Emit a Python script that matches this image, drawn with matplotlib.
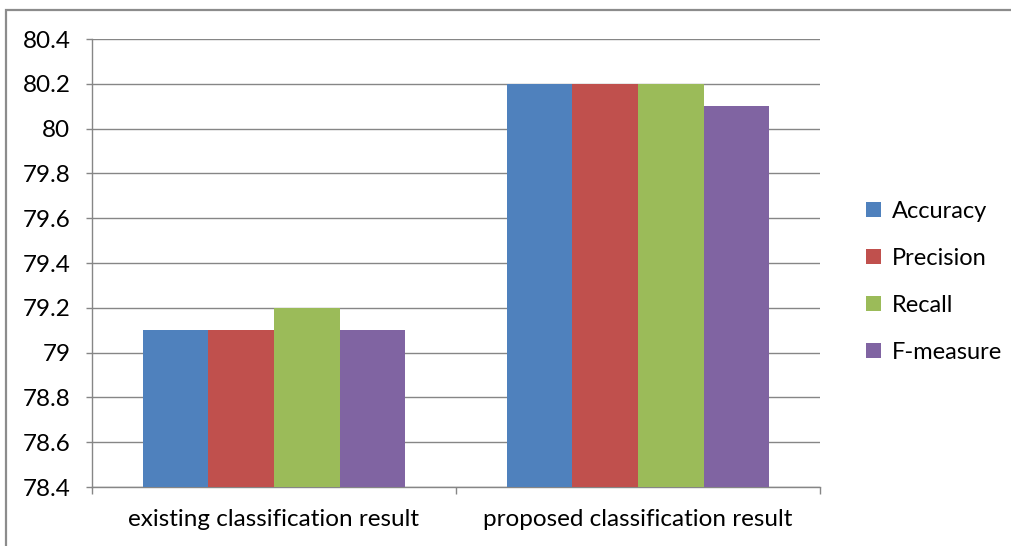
import matplotlib
matplotlib.use("Agg")
import matplotlib.pyplot as plt
import numpy as np
from matplotlib.patches import Rectangle

categories = ["existing classification result", "proposed classification result"]
series_names = ["Accuracy", "Precision", "Recall", "F-measure"]
accuracy = [79.1, 80.2]
precision = [79.1, 80.2]
recall = [79.2, 80.2]
fmeasure = [79.1, 80.1]
series_values = [accuracy, precision, recall, fmeasure]
colors = ["#4F81BD", "#C0504D", "#9BBB59", "#8064A2"]
yticks = [78.4, 78.6, 78.8, 79.0, 79.2, 79.4, 79.6, 79.8, 80.0, 80.2, 80.4]
ytick_labels = ["78.4", "78.6", "78.8", "79", "79.2", "79.4", "79.6", "79.8", "80", "80.2", "80.4"]

plt.rcParams['font.family'] = ['Lato', 'DejaVu Sans']

W, H = 1011, 546
fig = plt.figure(figsize=(W / 100, H / 100), dpi=100)

# outer frame
fig.patches.append(Rectangle((6 / W, -0.1), 1.2, (H - 10) / H + 0.1,
                             transform=fig.transFigure, fill=False,
                             edgecolor="#8C8C8C", linewidth=1.6, zorder=0))

ax = fig.add_axes([92 / W, (H - 487) / H, (820 - 92) / W, (487 - 39) / H])
gray = "#868686"
x = np.arange(len(categories))
bw = 0.18
for i, (name, vals, c) in enumerate(zip(series_names, series_values, colors)):
    ax.bar(x + (i - 1.5) * bw, vals, width=bw, color=c, label=name, zorder=3)

fs = 17.5
ax.set_xlim(-0.5, 1.5)
ax.set_ylim(78.4, 80.4)
ax.set_yticks(yticks)
ax.set_yticklabels(ytick_labels, fontsize=fs)
ax.yaxis.grid(True, color=gray, linewidth=1.0, zorder=0)
ax.set_axisbelow(True)
ax.set_xticks(x)
ax.set_xticklabels(categories, fontsize=fs)
ax.set_xticks([-0.5, 0.5, 1.5], minor=True)
ax.tick_params(axis="x", which="major", length=0, pad=16)
ax.tick_params(axis="x", which="minor", length=5, color=gray, width=1.0)
ax.tick_params(axis="y", length=4.5, color=gray, width=1.0, pad=11)
for s in ["top", "right"]:
    ax.spines[s].set_visible(False)
ax.spines["left"].set_color(gray)
ax.spines["bottom"].set_color(gray)
ax.spines["left"].set_linewidth(1.0)
ax.spines["bottom"].set_linewidth(1.0)

leg = ax.legend(loc="center left", bbox_to_anchor=(845 / W, (H - 282) / H),
                bbox_transform=fig.transFigure, frameon=False, fontsize=17,
                handlelength=0.62, handleheight=0.62, handletextpad=0.45,
                labelspacing=1.1)

fig.savefig("out.png", dpi=100)
